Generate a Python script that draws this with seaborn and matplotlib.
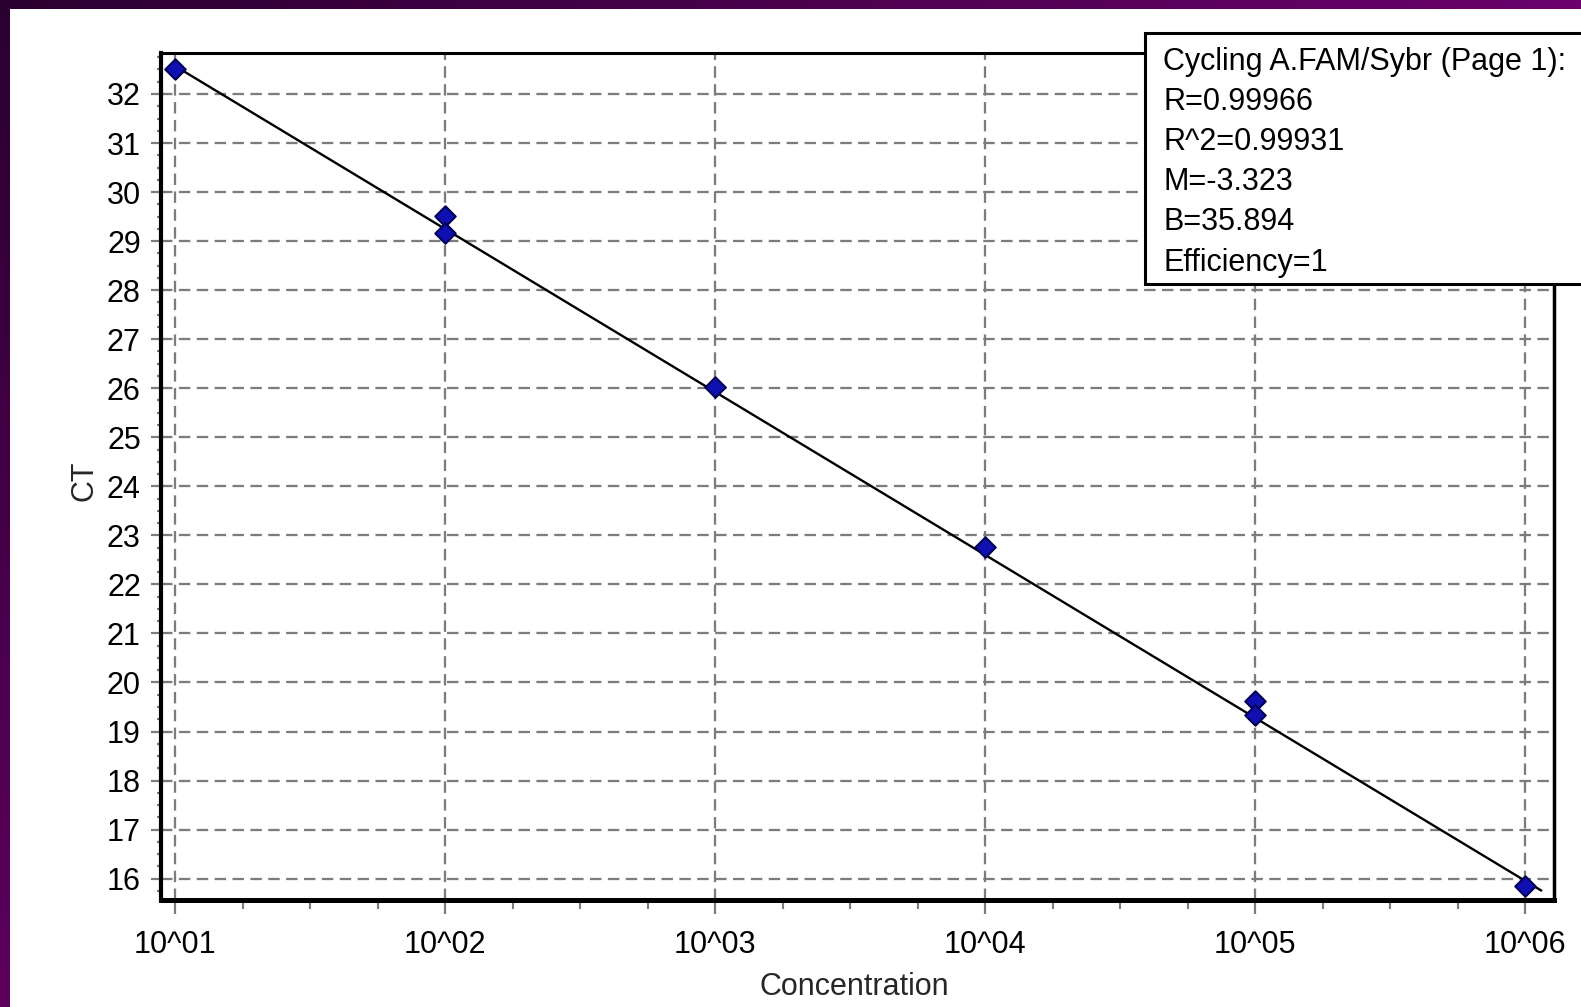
import numpy as np
import pandas as pd
import matplotlib
matplotlib.use("Agg")
import matplotlib.pyplot as plt
import seaborn as sns
from matplotlib.patches import Rectangle
from matplotlib.colors import LinearSegmentedColormap
from matplotlib.ticker import FixedLocator, FixedFormatter, MultipleLocator, NullFormatter

# Standard-curve measurements (log-dilution series)
concentration = [1e1, 1e2, 1e2, 1e3, 1e4, 1e5, 1e5, 1e6]
ct_values = [32.50, 29.52, 29.16, 26.03, 22.76, 19.62, 19.33, 15.85]

x_tick_values = [1e1, 1e2, 1e3, 1e4, 1e5, 1e6]
x_tick_labels = ["10^01", "10^02", "10^03", "10^04", "10^05", "10^06"]
y_tick_values = list(range(16, 33))

# Regression summary
fit_title = "Cycling A.FAM/Sybr (Page 1):"
fit_r = "0.99966"
fit_r2 = "0.99931"
fit_slope = -3.323
fit_intercept = 35.894
fit_efficiency = "1"

W, H = 1581, 1007
sns.set_theme(style="white")
plt.rcParams["font.family"] = ["Liberation Sans", "DejaVu Sans"]
FS = 22
GRID = "#7c7c7c"

fig = plt.figure(figsize=(W / 100, H / 100), dpi=100)
fig.patch.set_facecolor("white")

# window frame bands
bg = fig.add_axes([0, 0, 1, 1], zorder=-10)
bg.set_xlim(0, W)
bg.set_ylim(H, 0)
bg.axis("off")
top_cmap = LinearSegmentedColormap.from_list("top", ["#2a0030", "#6c006c"])
left_cmap = LinearSegmentedColormap.from_list("left", ["#2a0030", "#5e005e"])
ramp = np.linspace(0, 1, 256)
bg.imshow(ramp[None, :], extent=(0, W, 9, 0), cmap=top_cmap, aspect="auto")
bg.imshow(ramp[:, None], extent=(0, 10, H, 9), cmap=left_cmap, aspect="auto")
bg.set_xlim(0, W)
bg.set_ylim(H, 0)

# main plot area
ax = fig.add_axes([161 / W, 1 - 900 / H, (1554 - 161) / W, (900 - 53) / H])
ax.set_facecolor("white")
ax.set_xscale("log")
ax.set_xlim(10 ** 0.948, 10 ** 6.107)
ax.set_ylim(15.564, 32.836)

df = pd.DataFrame({"Concentration": concentration, "CT": ct_values})

# fitted standard curve: CT = M * log10(conc) + B
line_log = np.linspace(1.0, 6.06, 20)
fit_df = pd.DataFrame({"Concentration": 10 ** line_log,
                       "CT": fit_slope * line_log + fit_intercept})
sns.lineplot(data=fit_df, x="Concentration", y="CT", color="black",
             linewidth=1.7, ax=ax, zorder=3)
sns.scatterplot(data=df, x="Concentration", y="CT", marker="D", s=110,
                color="#1010b0", edgecolor="#000050", linewidth=1.4,
                ax=ax, zorder=4)

# ticks and grid
ax.xaxis.set_major_locator(FixedLocator(x_tick_values))
ax.xaxis.set_major_formatter(FixedFormatter(x_tick_labels))
minor_x = [10 ** (d + q / 4) for d in range(0, 7) for q in (1, 2, 3)]
ax.xaxis.set_minor_locator(FixedLocator(minor_x))
ax.xaxis.set_minor_formatter(NullFormatter())
ax.yaxis.set_major_locator(FixedLocator(y_tick_values))
ax.yaxis.set_minor_locator(MultipleLocator(0.25))

ax.tick_params(axis="x", which="major", length=10, width=1.6, color=GRID,
               pad=11.4, labelsize=FS, labelcolor="black", bottom=True)
ax.tick_params(axis="x", which="minor", length=6.5, width=1.5, color=GRID,
               bottom=True)
ax.tick_params(axis="y", which="major", length=7.2, width=1.6, color=GRID,
               pad=7.3, labelsize=FS, labelcolor="black", left=True)
ax.tick_params(axis="y", which="minor", length=3, width=1.6, color=GRID,
               left=True)

ax.grid(True, which="major", color=GRID, linewidth=1.65,
        linestyle=(0, (5, 2.8)))
ax.set_axisbelow(True)

for side, lw in (("left", 3.0), ("bottom", 3.6), ("top", 2.2), ("right", 2.5)):
    ax.spines[side].set_visible(True)
    ax.spines[side].set_color("black")
    ax.spines[side].set_linewidth(lw)

ax.set_xlabel("Concentration", fontsize=FS, va="baseline", ha="center")
ax.xaxis.set_label_coords(854 / W, 1 - 995 / H, transform=fig.transFigure)
ax.set_ylabel("CT", fontsize=FS, va="center", ha="center")
ax.yaxis.set_label_coords(84 / W, 1 - 481 / H, transform=fig.transFigure)

# regression summary box
ov = fig.add_axes([0, 0, 1, 1], zorder=10)
ov.set_xlim(0, W)
ov.set_ylim(H, 0)
ov.axis("off")
ov.add_patch(Rectangle((1145, 33), 500, 251, facecolor="white",
                       edgecolor="black", linewidth=2.2))
summary = [fit_title,
           f"R={fit_r}",
           f"R^2={fit_r2}",
           f"M={fit_slope}",
           f"B={fit_intercept}",
           f"Efficiency={fit_efficiency}"]
for i, line in enumerate(summary):
    ov.text(1163, 70 + 40.1 * i, line, fontsize=FS, color="black",
            ha="left", va="baseline")

fig.savefig("out.png", dpi=100)
